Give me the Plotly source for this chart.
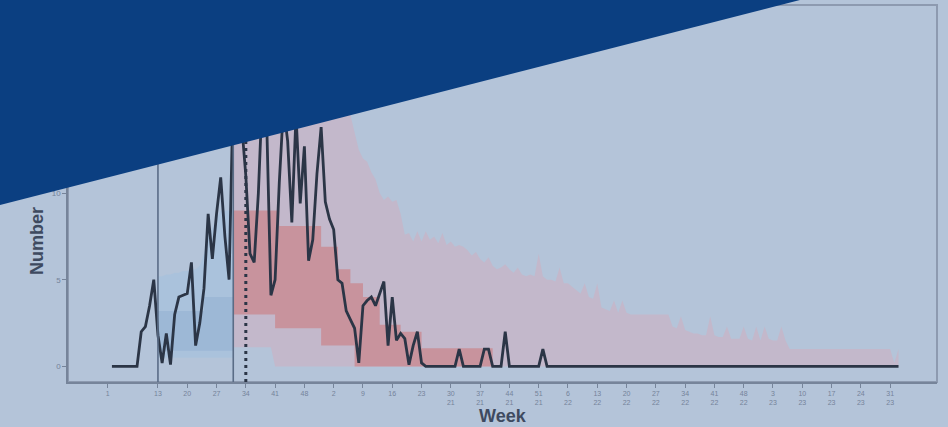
import plotly.graph_objects as go

W, H = 948, 427
ML, MR, MT, MB = 68, 11, 5, 45

# Weekly observed counts (week index 0..188)
OBSERVED = [
    0, 0, 0, 0, 0, 0, 0, 2.0, 2.3, 3.5,
    5.0, 1.8, 0.2, 1.9, 0.1, 3.0, 4.0, 4.1, 4.2, 6.0,
    1.2, 2.5, 4.5, 8.8, 6.2, 8.8, 10.9, 7.5, 5.0, 16,
    18, 14, 11, 6.5, 6.0, 10, 16, 14, 4.1, 5.0,
    10.6, 15, 13, 8.3, 14.5, 9.4, 12.7, 6.1, 7.3, 11.1,
    13.8, 9.5, 8.5, 7.9, 5.0, 4.8, 3.2, 2.7, 2.2, 0.2,
    3.5, 3.8, 4.0, 3.5, 4.2, 4.9, 1.2, 4.0, 1.5, 1.9,
    1.6, 0.1, 1.2, 2.0, 0.2, 0, 0, 0, 0, 0,
    0, 0, 0, 1.0, 0, 0, 0, 0, 0, 1.0,
    1.0, 0, 0, 0, 2.0, 0, 0, 0, 0, 0,
    0, 0, 0, 1.0, 0, 0, 0, 0, 0, 0,
    0, 0, 0, 0, 0, 0, 0, 0, 0, 0,
    0, 0, 0, 0, 0, 0, 0, 0, 0, 0,
    0, 0, 0, 0, 0, 0, 0, 0, 0, 0,
    0, 0, 0, 0, 0, 0, 0, 0, 0, 0,
    0, 0, 0, 0, 0, 0, 0, 0, 0, 0,
    0, 0, 0, 0, 0, 0, 0, 0, 0, 0,
    0, 0, 0, 0, 0, 0, 0, 0, 0, 0,
    0, 0, 0, 0, 0, 0, 0, 0, 0,
]

# Fitting-period interval (weeks 11..29)
BLUE_START = 11
BLUE_U95 = [5.2, 5.2, 5.3, 5.3, 5.4, 5.4, 5.5, 5.5, 5.6, 5.6,
            5.8, 6.5, 7.5, 8.0, 8.5, 9.0, 9.0, 9.0, 9.0]
BLUE_L95 = [0.5] * 19
BLUE_U50 = [3.2] * 11 + [4.0] * 8
BLUE_L50 = [0.9] * 19

# Forecast interval (weeks 29..188)
RED_START = 29
RED_U95 = [
    17, 18, 19, 19, 20, 20, 20, 19, 19, 18,
    18, 18, 17, 17, 17, 16, 16, 16, 16, 15.5,
    15.5, 15, 15, 15, 15, 15, 14.8, 14.6, 14.5, 13.5,
    12.5, 12.0, 11.8, 11.2, 10.8, 10.0, 9.6, 9.8, 9.5, 9.6,
    8.8, 7.6, 7.7, 7.2, 7.8, 7.2, 7.8, 7.3, 7.5, 7.1,
    7.7, 7.0, 7.2, 6.9, 7.0, 6.9, 6.7, 6.4, 6.6, 6.2,
    6.0, 6.3, 5.8, 5.6, 5.7, 5.9, 5.6, 5.4, 5.7, 5.3,
    5.2, 5.3, 5.2, 6.5, 5.2, 5.0, 5.0, 4.9, 5.7, 4.8,
    4.8, 4.6, 4.4, 4.2, 4.8, 4.0, 3.9, 4.8, 3.4, 3.3,
    3.2, 3.8, 3.1, 3.8, 3.1, 3.0, 3.0, 3.0, 3.0, 3.0,
    3.0, 3.0, 3.0, 3.0, 3.0, 2.3, 2.2, 2.9, 2.1, 2.0,
    1.9, 1.9, 1.8, 1.8, 2.9, 1.8, 1.7, 1.7, 2.3, 1.6,
    1.6, 1.6, 2.3, 1.6, 1.5, 2.3, 1.5, 2.3, 1.6, 1.5,
    1.5, 2.3, 1.5, 1.0, 1.0, 1.0, 1.0, 1.0, 1.0, 1.0,
    1.0, 1.0, 1.0, 1.0, 1.0, 1.0, 1.0, 1.0, 1.0, 1.0,
    1.0, 1.0, 1.0, 1.0, 1.0, 1.0, 1.0, 1.0, 0.2, 1.0,
]
RED_L95 = [1.1] * 10 + [0] * 150
RED_U50 = ([9.0] * 11 + [8.1] * 10 + [6.9] * 4 + [5.6] * 3 + [4.8] * 3
           + [4.0] * 4 + [2.4] * 5 + [2.0] * 5 + [1.05] * 17 + [0] * 98)
RED_L50 = [3.0] * 10 + [2.2] * 11 + [1.2] * 8 + [0] * 131

# Period markers
FIT_START_WEEK = 11
FIT_END_WEEK = 29
REPORT_WEEK = 32

TICK_WEEKS = [-1] + list(range(11, 187, 7))
TICK_LABELS = [
    "1", "13", "20", "27", "34", "41", "48", "2", "9", "16", "23",
    "30<br>21", "37<br>21", "44<br>21", "51<br>21",
    "6<br>22", "13<br>22", "20<br>22", "27<br>22", "34<br>22", "41<br>22", "48<br>22",
    "3<br>23", "10<br>23", "17<br>23", "24<br>23", "31<br>23",
]
Y_TICKS = [0, 5, 10, 15, 20]

BG = "#b4c4d9"
BANNER = "#0b3f81"
LINE = "#2b3546"
AXIS = "#76849a"
FONT = "Liberation Sans, Arial, sans-serif"

fig = go.Figure()


def add_band(start, lower, upper, color, shape):
    xs = list(range(start, start + len(upper)))
    fig.add_trace(go.Scatter(x=xs, y=lower, mode="lines",
                             line=dict(width=0, shape=shape),
                             hoverinfo="skip", showlegend=False))
    fig.add_trace(go.Scatter(x=xs, y=upper, mode="lines",
                             line=dict(width=0, shape=shape),
                             fill="tonexty", fillcolor=color,
                             hoverinfo="skip", showlegend=False))


add_band(RED_START, RED_L95, RED_U95, "#c3b8cb", "linear")
add_band(RED_START, RED_L50, RED_U50, "#c8939d", "hv")
add_band(BLUE_START, BLUE_L95, BLUE_U95, "#aac2dc", "linear")
add_band(BLUE_START, BLUE_L50, BLUE_U50, "#9db8d6", "hv")

fig.add_trace(go.Scatter(
    x=list(range(len(OBSERVED))), y=OBSERVED, mode="lines",
    line=dict(color=LINE, width=2.8), showlegend=False,
))

x_range = [-10.5, 197.2]
y_range = [-0.9, 20.85]
plot_w = W - ML - MR
plot_h = H - MT - MB


def px_to_paper(px, py):
    return (px - ML) / plot_w, (H - MB - py) / plot_h


shapes = [
    dict(type="rect", xref="paper", yref="paper", x0=0, x1=1, y0=0, y1=1,
         line=dict(color="#8d9ab0", width=2), layer="below"),
    dict(type="line", xref="x", yref="paper", x0=FIT_START_WEEK, x1=FIT_START_WEEK,
         y0=0, y1=1, line=dict(color="#5a6c86", width=1.6), layer="above"),
    dict(type="line", xref="x", yref="paper", x0=FIT_END_WEEK, x1=FIT_END_WEEK,
         y0=0, y1=1, line=dict(color="#5a6c86", width=1.6), layer="above"),
    dict(type="line", xref="x", yref="paper", x0=REPORT_WEEK, x1=REPORT_WEEK,
         y0=0, y1=1, line=dict(color=LINE, width=3, dash="3px,4px"), layer="above"),
]

# Diagonal banner across the upper-left corner
corner = [px_to_paper(-30, -30), px_to_paper(917, -30), px_to_paper(-30, 212.7)]
path = "M {} {} L {} {} L {} {} Z".format(*[c for p in corner for c in p])
shapes.append(dict(type="path", xref="paper", yref="paper", path=path,
                   fillcolor=BANNER, line=dict(width=0), layer="above"))

fig.update_layout(
    width=W, height=H,
    margin=dict(l=ML, r=MR, t=MT, b=MB, pad=0),
    paper_bgcolor=BG, plot_bgcolor=BG,
    font=dict(family=FONT, color="#6c7a90"),
    shapes=shapes,
    showlegend=False,
    xaxis=dict(
        range=x_range, showgrid=False, zeroline=False,
        showline=True, linecolor=AXIS, linewidth=1.5,
        ticks="outside", ticklen=4, tickcolor=AXIS, tickwidth=1,
        tickvals=TICK_WEEKS, ticktext=TICK_LABELS,
        tickfont=dict(size=7, color="#75839a"), tickangle=0,
    ),
    yaxis=dict(
        range=y_range, showgrid=False, zeroline=False,
        showline=True, linecolor=AXIS, linewidth=1.5,
        ticks="outside", ticklen=4, tickcolor=AXIS, tickwidth=1,
        tickvals=Y_TICKS, ticktext=[str(v) for v in Y_TICKS],
        tickfont=dict(size=8, color="#75839a"),
    ),
    annotations=[
        dict(text="<b>Week</b>", xref="paper", yref="paper",
             x=0.5, y=px_to_paper(0, 416)[1], xanchor="center", yanchor="middle",
             showarrow=False, font=dict(size=18, color="#3e4a60", family=FONT)),
        dict(text="<b>Number</b>", xref="paper", yref="paper",
             x=px_to_paper(37, 0)[0], y=px_to_paper(0, 241)[1],
             xanchor="center", yanchor="middle", textangle=-90,
             showarrow=False, font=dict(size=18, color="#3e4a60", family=FONT)),
    ],
)

fig.write_html("out.html")
